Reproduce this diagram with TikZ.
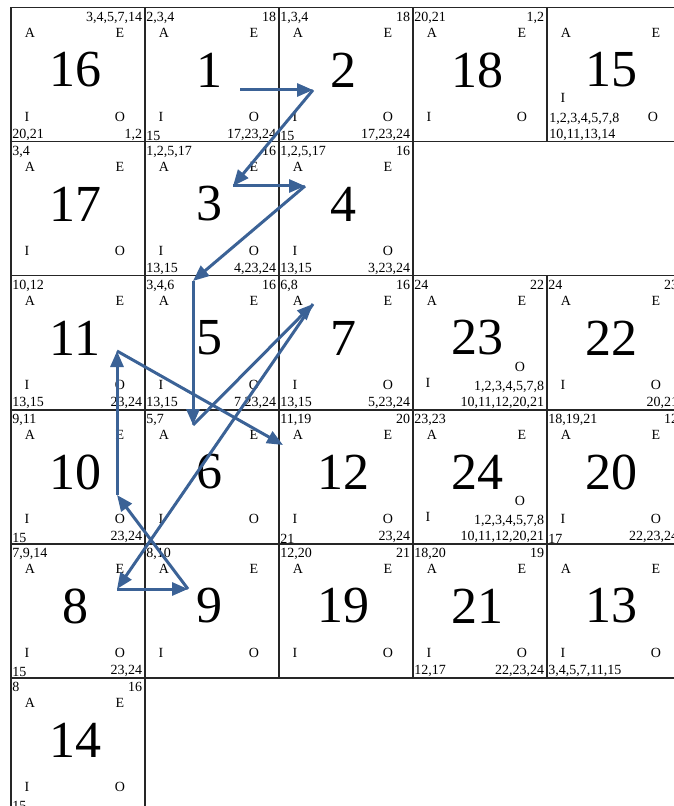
\documentclass[tikz,border=0pt]{standalone}
\usepackage{fontspec}
\setmainfont{Liberation Serif}
\usetikzlibrary{arrows.meta, positioning, calc}

\definecolor{pathblue}{RGB}{59,98,150}

% one square of the board: box, big number, corner letters, corner lists
\newcommand{\sqbox}[5]{%
  \node[cellbox] (c#1) at (10+134*#2, 7+134*#3) {};
  \node[bignum]  (n#1)  at ([shift={(65,63)}]c#1.north west)  {#1};
  \node[letter]  (a#1)  at ([shift={(20,26)}]c#1.north west)  {A};
  \node[letter]  (e#1)  at ([shift={(110,26)}]c#1.north west) {E};
  \node[lst, anchor=north west] (tl#1) at ([shift={(2,5)}]c#1.north west)  {#4};
  \node[lst, anchor=north east] (tr#1) at ([shift={(-3,5)}]c#1.north east) {#5};
}
\newcommand{\sqcell}[7]{%
  \sqbox{#1}{#2}{#3}{#4}{#5}
  \node[letter] (i#1) at ([shift={(17,110)}]c#1.north west)  {I};
  \node[letter] (o#1) at ([shift={(110,110)}]c#1.north west) {O};
  \node[lst, anchor=south west] (bl#1) at ([shift={(2,-1)}]c#1.south west)  {#6};
  \node[lst, anchor=south east] (br#1) at ([shift={(-3,-1)}]c#1.south east) {#7};
}

\begin{document}
\begin{tikzpicture}[
  x=0.5pt, y=-0.5pt,
  cellbox/.style = {draw=black!85, line width=0.75pt, anchor=north west,
                    minimum width=67pt, minimum height=67pt, inner sep=0pt},
  bignum/.style  = {font=\fontsize{26}{26}\selectfont, inner sep=0pt},
  letter/.style  = {font=\fontsize{7}{8}\selectfont, inner sep=0pt},
  lst/.style     = {font=\fontsize{7}{8}\selectfont, inner sep=0pt},
  lst2/.style    = {font=\fontsize{7}{8}\selectfont, inner sep=0pt},
  arr/.style     = {-{Triangle[length=8pt, width=6.5pt]}, line width=1.5pt,
                    draw=pathblue, fill=pathblue},
]
\useasboundingbox (0,0) rectangle (673,806);

% =============================================
% ROW 0
% =============================================
\sqcell{16}{0}{0}{}{3,4,5,7,14}{20,21}{1,2}
\sqcell{1}{1}{0}{2,3,4}{18}{15}{17,23,24}
\sqcell{2}{2}{0}{1,3,4}{18}{15}{17,23,24}
\sqcell{18}{3}{0}{20,21}{1,2}{}{}
\sqbox{15}{4}{0}{}{}
\node[letter] (i15) at ([shift={(17,91)}]c15.north west)  {I};
\node[letter] (o15) at ([shift={(107,110)}]c15.north west) {O};
\node[lst2, anchor=south west, align=left] (bl15)
    at ([shift={(3,-1)}]c15.south west) {1,2,3,4,5,7,8\\10,11,13,14};

% =============================================
% ROW 1
% =============================================
\sqcell{17}{0}{1}{3,4}{}{}{}
\sqcell{3}{1}{1}{1,2,5,17}{16}{13,15}{4,23,24}
\sqcell{4}{2}{1}{1,2,5,17}{16}{13,15}{3,23,24}

% =============================================
% ROW 2
% =============================================
\sqcell{11}{0}{2}{10,12}{}{13,15}{23,24}
\sqcell{5}{1}{2}{3,4,6}{16}{13,15}{7,23,24}
\sqcell{7}{2}{2}{6,8}{16}{13,15}{5,23,24}
\sqbox{23}{3}{2}{24}{22}
\node[letter] (i23) at ([shift={(16,108)}]c23.north west)  {I};
\node[letter] (o23) at ([shift={(108,92)}]c23.north west) {O};
\node[lst2, anchor=south east, align=right] (br23)
    at ([shift={(-3,-1)}]c23.south east) {1,2,3,4,5,7,8\\10,11,12,20,21};
\sqcell{22}{4}{2}{24}{23}{}{20,21}

% =============================================
% ROW 3
% =============================================
\sqcell{10}{0}{3}{9,11}{}{15}{23,24}
\sqcell{6}{1}{3}{5,7}{}{}{}
\sqcell{12}{2}{3}{11,19}{20}{21}{23,24}
\sqbox{24}{3}{3}{23,23}{}
\node[letter] (i24) at ([shift={(16,108)}]c24.north west)  {I};
\node[letter] (o24) at ([shift={(108,92)}]c24.north west) {O};
\node[lst2, anchor=south east, align=right] (br24)
    at ([shift={(-3,-1)}]c24.south east) {1,2,3,4,5,7,8\\10,11,12,20,21};
\sqcell{20}{4}{3}{18,19,21}{12}{17}{22,23,24}

% =============================================
% ROW 4 AND 5
% =============================================
\sqcell{8}{0}{4}{7,9,14}{}{15}{23,24}
\sqcell{9}{1}{4}{8,10}{}{}{}
\sqcell{19}{2}{4}{12,20}{21}{}{}
\sqcell{21}{3}{4}{18,20}{19}{12,17}{22,23,24}
\sqcell{13}{4}{4}{}{}{3,4,5,7,11,15}{}
\sqcell{14}{0}{5}{8}{16}{15}{}

% =============================================
% TOUR POINTS
% =============================================
\coordinate (pt1)  at ([shift={(96,83)}]c1.north west);
\coordinate (pt2)  at ([shift={(35,83)}]c2.north west);
\coordinate (pt3)  at ([shift={(89,45)}]c3.north west);
\coordinate (pt4)  at ([shift={(27,45)}]c4.north west);
\coordinate (pt5)  at ([shift={(49,6)}]c5.north west);
\coordinate (pt6)  at ([shift={(49,16)}]c6.north west);
\coordinate (pt7)  at ([shift={(35,29)}]c7.north west);
\coordinate (pt8)  at ([shift={(107,46)}]c8.north west);
\coordinate (pt9)  at ([shift={(44,46)}]c9.north west);
\coordinate (pt10) at ([shift={(107,86)}]c10.north west);
\coordinate (pt11) at ([shift={(107,76)}]c11.north west);
\coordinate (pt12) at ([shift={(5,36)}]c12.north west);

% =============================================
% TOUR ARROWS
% =============================================
\draw[arr] (pt1)  -- (pt2);
\draw[arr] (pt2)  -- (pt3);
\draw[arr] (pt3)  -- (pt4);
\draw[arr] (pt4)  -- (pt5);
\draw[arr] (pt5)  -- (pt6);
\draw[arr] (pt6)  -- (pt7);
\draw[arr] (pt7)  -- (pt8);
\draw[arr] (pt8)  -- (pt9);
\draw[arr] (pt9)  -- (pt10);
\draw[arr] (pt10) -- (pt11);
\draw[arr] (pt11) -- (pt12);

\end{tikzpicture}
\end{document}
